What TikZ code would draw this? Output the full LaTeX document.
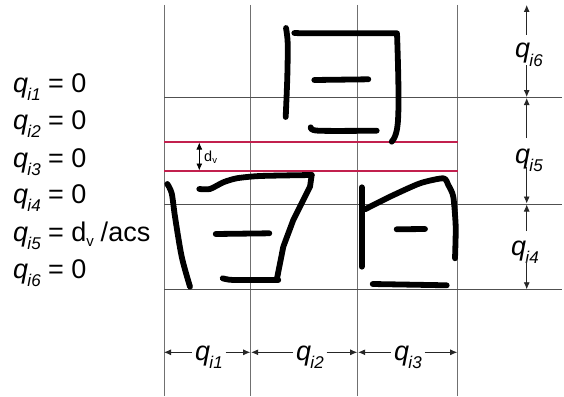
\documentclass[tikz,border=0pt]{standalone}
\usepackage{fontspec}
\setmainfont{Liberation Sans}
\usetikzlibrary{arrows.meta}
\definecolor{vgrid}{HTML}{707070}
\definecolor{hgrid}{HTML}{505050}
\definecolor{redline}{HTML}{C2204E}
\newcommand{\qq}[2]{\textit{q\kern-0.02em\raisebox{-0.3em}{\fontsize{17}{18}\selectfont #1#2}}}
\tikzset{
  vg/.style={draw=vgrid,line width=1.1pt},
  hg/.style={draw=hgrid,line width=1pt},
  rl/.style={draw=redline,line width=1.3pt},
  pen/.style={draw=black,line width=5.8pt,line cap=round,line join=round},
  dim/.style={draw=black!85,line width=0.8pt,-{Latex[length=7pt,width=6pt]}},
  lab/.style={inner sep=0pt,outer sep=0pt,anchor=base west,font=\fontsize{27}{30}\selectfont},
  dimlab/.style={lab,inner sep=3pt}
}
\begin{document}
\begin{tikzpicture}[x=1pt,y=-1pt]
\useasboundingbox[fill=white] (0,0) rectangle (564,396);
% grid corners
\coordinate (v1t) at (164.4,5);   \coordinate (v1b) at (164.4,396);
\coordinate (v2t) at (250.7,5); \coordinate (v2b) at (250.7,396);
\coordinate (v3t) at (357.7,5); \coordinate (v3b) at (357.7,396);
\coordinate (v4t) at (457.7,5); \coordinate (v4b) at (457.7,396);
\coordinate (h1l) at (164,97.5);  \coordinate (h1r) at (562,97.5);
\coordinate (h2l) at (164,204);   \coordinate (h2r) at (562,204);
\coordinate (h3l) at (164,289.3); \coordinate (h3r) at (562,289.3);
\coordinate (r1l) at (164,142); \coordinate (r1r) at (458,142);
\coordinate (r2l) at (164,171); \coordinate (r2r) at (458,171);
\draw[vg] (v1t) -- (v1b);
\draw[vg] (v2t) -- (v2b);
\draw[vg] (v3t) -- (v3b);
\draw[vg] (v4t) -- (v4b);
\draw[hg] (h1l) -- (h1r);
\draw[hg] (h2l) -- (h2r);
\draw[hg] (h3l) -- (h3r);
\draw[rl] (r1l) -- (r1r);
\draw[rl] (r2l) -- (r2r);
% handwriting
\draw[pen] plot[smooth,tension=0.5] coordinates {(286,28) (287.7,43) (287.3,77) (285.7,117)};
\draw[pen] (294.3,33) -- (303,33.3) -- (397,33.3) .. controls (398,60) and (399,100) .. (398.3,113) .. controls (398,125) and (397,136) .. (391.7,141.7);
\draw[pen] (314.3,80) -- (368.3,79.3);
\draw[pen] plot[smooth,tension=0.5] coordinates {(310.7,127.3) (318.3,130.7) (376.7,130.7)};
\draw[pen] plot[smooth,tension=0.5] coordinates {(167.3,184) (171.7,193.3) (175,216.7) (181.7,256.7) (190,286.7)};
\draw[pen] plot[smooth,tension=0.4] coordinates {(199.3,189) (210,189) (223.3,182.3) (236.7,178.3) (260,176) (311.7,175)};
\draw[pen] (311.7,175) -- (310,186.7) -- (293.3,220) -- (283.3,246.7) -- (276.7,280);
\draw[pen] plot[smooth,tension=0.4] coordinates {(222.7,278.3) (233.3,280) (278.3,280)};
\draw[pen] (215.7,234) -- (269.3,233.3);
\draw[pen] (361.7,187.3) -- (361.7,266.7);
\draw[pen] plot[smooth,tension=0.4] coordinates {(365,209.3) (390,196.7) (420,183.3) (443.3,178.3) (448.3,185) (453.3,196.7) (455.7,226.7) (455,258.3)};
\draw[pen] (396.7,229.3) -- (425,229);
\draw[pen] (372.7,284) -- (446.7,285.3);
% left equations
\node[lab] (e1) at (13,92)  {\qq{i}{1} = 0};
\node[lab] (e2) at (13,129) {\qq{i}{2} = 0};
\node[lab] (e3) at (13,167) {\qq{i}{3} = 0};
\node[lab] (e4) at (13,203) {\qq{i}{4} = 0};
\node[lab] (e5) at (13,241) {\qq{i}{5} = d\raisebox{-0.2em}{\fontsize{15}{16}\selectfont v}\kern 0.25em/acs};
\node[lab] (e6) at (13,278) {\qq{i}{6} = 0};
% bottom dims
\coordinate (b1a) at (164,352.3);  \coordinate (b1b) at (250.2,352.3);
\coordinate (b2a) at (251.2,352.3);\coordinate (b2b) at (357.2,352.3);
\coordinate (b3a) at (358.2,352.3);\coordinate (b3b) at (457.2,352.3);
\node[dimlab] (q1) at (192,360) {\qq{i}{1}};
\node[dimlab] (q2) at (293,360) {\qq{i}{2}};
\node[dimlab] (q3) at (391,360) {\qq{i}{3}};
\draw[dim] (q1.west |- b1a) -- (b1a);
\draw[dim] (q1.east |- b1b) -- (b1b);
\draw[dim] (q2.west |- b2a) -- (b2a);
\draw[dim] (q2.east |- b2b) -- (b2b);
\draw[dim] (q3.west |- b3a) -- (b3a);
\draw[dim] (q3.east |- b3b) -- (b3b);
% right dims
\coordinate (t6) at (526.7,5);    \coordinate (d6) at (526.7,97);
\coordinate (t5) at (526.7,98);   \coordinate (d5) at (526.7,203.5);
\coordinate (t4) at (526.7,204.5);\coordinate (d4) at (526.7,289.3);
\node[lab] (q6) at (515,58)  {\qq{i}{6}};
\node[lab] (q5) at (515,163) {\qq{i}{5}};
\node[lab] (q4) at (511,255) {\qq{i}{4}};
\coordinate (q6t) at (526.7,35);  \coordinate (q6d) at (526.7,65);
\coordinate (q5t) at (526.7,138); \coordinate (q5d) at (526.7,167);
\coordinate (q4t) at (526.7,231); \coordinate (q4d) at (526.7,260);
\draw[dim] (q6t) -- (t6);
\draw[dim] (q6d) -- (d6);
\draw[dim] (q5t) -- (t5);
\draw[dim] (q5d) -- (d5);
\draw[dim] (q4t) -- (t4);
\draw[dim] (q4d) -- (d4);
% dv
\coordinate (dvt) at (199.3,142.5); \coordinate (dvb) at (199.3,170.5);
\draw[draw=black,line width=0.8pt,{Latex[length=7pt,width=6pt]}-{Latex[length=7pt,width=6pt]}] (dvt) -- (dvb);
\node[anchor=base west,inner sep=0pt,font=\fontsize{14.5}{15}\selectfont] (dv) at (204,161) {d\raisebox{-0.2em}{\fontsize{9.5}{10}\selectfont v}};
\end{tikzpicture}
\end{document}
